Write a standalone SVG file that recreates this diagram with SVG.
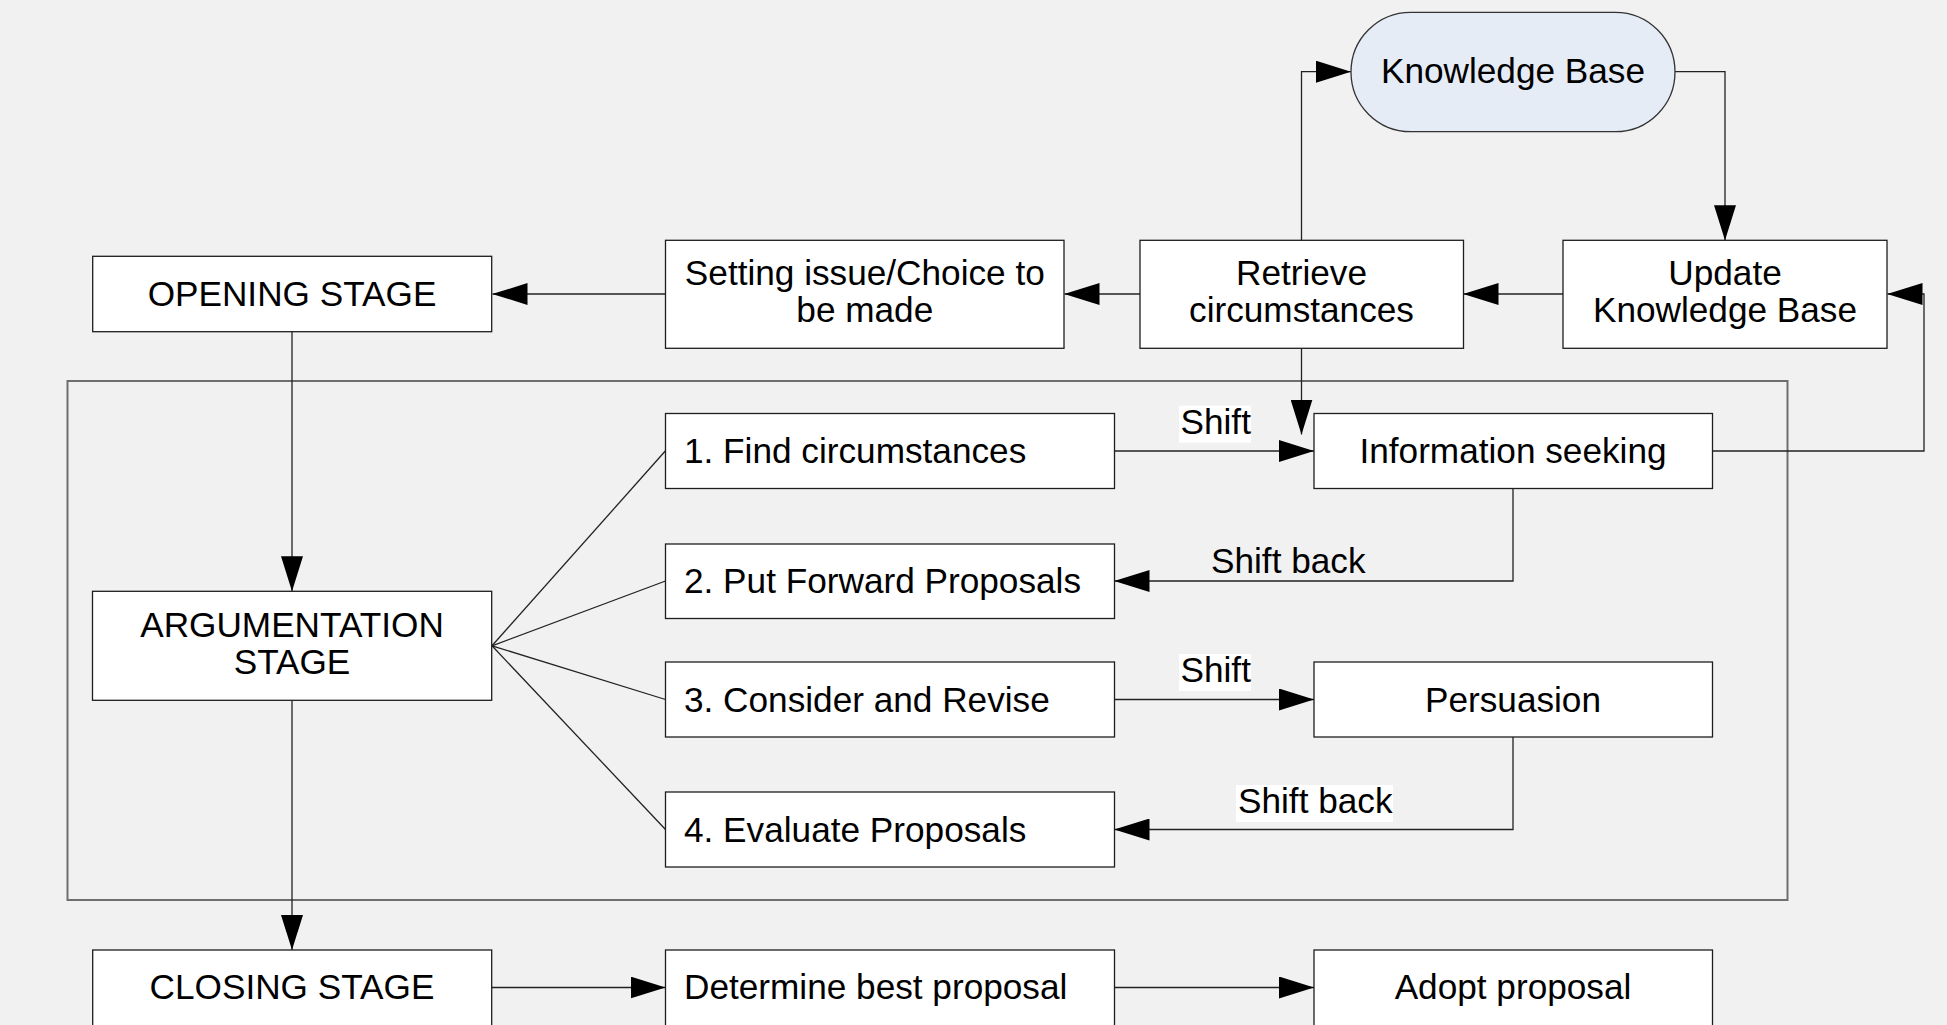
<svg xmlns="http://www.w3.org/2000/svg" width="1947" height="1025" viewBox="0 0 1947 1025">
<defs>
<style>
.bg{fill:#f1f1f1}
.box{fill:#ffffff;stroke:#1e1e1e;stroke-width:1.3}
.kb{fill:#e5ecf6;stroke:#333333;stroke-width:1.3}
.frame{fill:none;stroke:#6e6e6e;stroke-width:2}
.t{font-family:"Liberation Sans",Arial,Helvetica,sans-serif;font-size:35.2px;fill:#000000}
.c{text-anchor:middle}
.conn{fill:none;stroke:#222222;stroke-width:1.3}
.lbg{fill:#ffffff}
</style>
<marker id="ah" markerUnits="userSpaceOnUse" markerWidth="35" markerHeight="22" refX="35" refY="11" orient="auto">
<path d="M0,0 L35,11 L0,22 z" fill="#000000"/>
</marker>
</defs>
<rect class="bg" x="0" y="0" width="1947" height="1025"/>

<g id="container">
<rect class="frame" x="67.5" y="381" width="1720" height="519"/>
</g>

<g id="connectors">
<path class="conn" d="M665.5,294 H492.5" marker-end="url(#ah)"/>
<path class="conn" d="M1140,294 H1064.5" marker-end="url(#ah)"/>
<path class="conn" d="M1563,294 H1463.5" marker-end="url(#ah)"/>
<path class="conn" d="M1301.5,240.3 V71.7 H1351" marker-end="url(#ah)"/>
<path class="conn" d="M1675,71.7 H1725 V240.3" marker-end="url(#ah)"/>
<path class="conn" d="M1301.5,348.3 V434.5" marker-end="url(#ah)"/>
<path class="conn" d="M1114.5,451 H1314" marker-end="url(#ah)"/>
<path class="conn" d="M1513,488.5 V581 H1114.5" marker-end="url(#ah)"/>
<path class="conn" d="M1712.5,451 H1924 V294 H1887.5" marker-end="url(#ah)"/>
<path class="conn" d="M1114.5,699.5 H1314" marker-end="url(#ah)"/>
<path class="conn" d="M1513,737 V829.5 H1114.5" marker-end="url(#ah)"/>
<path class="conn" d="M292,331.7 V591.3" marker-end="url(#ah)"/>
<path class="conn" d="M292,700.3 V950" marker-end="url(#ah)"/>
<path class="conn" d="M492,987.5 H665.5" marker-end="url(#ah)"/>
<path class="conn" d="M1114.5,987.5 H1314" marker-end="url(#ah)"/>
<path class="conn" d="M492,645.8 L665.5,450.8"/>
<path class="conn" d="M492,645.8 L665.5,581"/>
<path class="conn" d="M492,645.8 L665.5,699.5"/>
<path class="conn" d="M492,645.8 L665.5,829.5"/>
<rect class="lbg" x="1179" y="405.7" width="72" height="37"/>
<text class="t" x="1180.5" y="434">Shift</text>
<text class="t" x="1211" y="572.5">Shift back</text>
<rect class="lbg" x="1179" y="654" width="72" height="37"/>
<text class="t" x="1180.5" y="682.3">Shift</text>
<rect class="lbg" x="1236" y="785" width="157" height="37"/>
<text class="t" x="1238" y="812.5">Shift back</text>
</g>

<g id="knowledge-base">
<rect class="kb" x="1351" y="12.3" width="324" height="119.4" rx="59.7" ry="59.7"/>
<text class="t c" x="1513" y="83">Knowledge Base</text>
</g>
<g id="update-kb">
<rect class="box" x="1563" y="240.3" width="324" height="108"/>
<text class="t c" x="1725" y="285">Update</text>
<text class="t c" x="1725" y="321.7">Knowledge Base</text>
</g>
<g id="retrieve">
<rect class="box" x="1140" y="240.3" width="323.5" height="108"/>
<text class="t c" x="1301.5" y="285">Retrieve</text>
<text class="t c" x="1301.5" y="321.7">circumstances</text>
</g>
<g id="setting-issue">
<rect class="box" x="665.5" y="240.3" width="398.5" height="108"/>
<text class="t c" x="864.8" y="285">Setting issue/Choice to</text>
<text class="t c" x="864.8" y="321.7">be made</text>
</g>
<g id="opening-stage">
<rect class="box" x="92.7" y="256.3" width="399" height="75.4"/>
<text class="t c" x="292" y="306">OPENING STAGE</text>
</g>
<g id="find-circumstances">
<rect class="box" x="665.5" y="413.5" width="449" height="75"/>
<text class="t" x="684" y="463">1. Find circumstances</text>
</g>
<g id="information-seeking">
<rect class="box" x="1314" y="413.5" width="398.5" height="75"/>
<text class="t c" x="1513" y="463">Information seeking</text>
</g>
<g id="put-forward">
<rect class="box" x="665.5" y="544" width="449" height="74.5"/>
<text class="t" x="684" y="593">2. Put Forward Proposals</text>
</g>
<g id="argumentation-stage">
<rect class="box" x="92.5" y="591.3" width="399.2" height="109"/>
<text class="t c" x="292" y="637">ARGUMENTATION</text>
<text class="t c" x="292" y="674">STAGE</text>
</g>
<g id="consider-revise">
<rect class="box" x="665.5" y="662" width="449" height="75"/>
<text class="t" x="684" y="711.5">3. Consider and Revise</text>
</g>
<g id="persuasion">
<rect class="box" x="1314" y="662" width="398.5" height="75"/>
<text class="t c" x="1513" y="711.5">Persuasion</text>
</g>
<g id="evaluate-proposals">
<rect class="box" x="665.5" y="792" width="449" height="75"/>
<text class="t" x="684" y="841.5">4. Evaluate Proposals</text>
</g>
<g id="closing-stage">
<rect class="box" x="92.7" y="950" width="399" height="85"/>
<text class="t c" x="292" y="999">CLOSING STAGE</text>
</g>
<g id="determine-best">
<rect class="box" x="665.5" y="950" width="449" height="85"/>
<text class="t" x="684" y="999">Determine best proposal</text>
</g>
<g id="adopt-proposal">
<rect class="box" x="1314" y="950" width="398.5" height="85"/>
<text class="t c" x="1513" y="999">Adopt proposal</text>
</g>
</svg>
